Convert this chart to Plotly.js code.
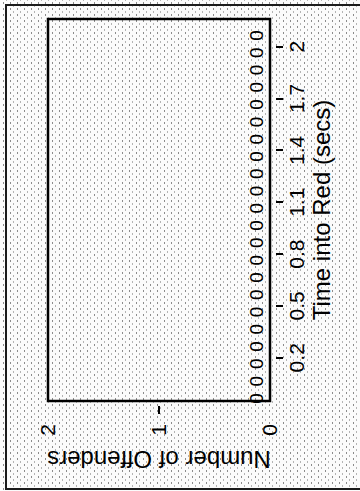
<!DOCTYPE html>
<html>
<head>
<meta charset="utf-8">
<script src="https://cdn.plot.ly/plotly-3.0.1.min.js"></script>
<style>
  html, body { margin: 0; padding: 0; width: 360px; height: 491px; overflow: hidden; background: #fbfbfb; }
  #stage {
    position: absolute; left: 0; top: 0; width: 360px; height: 491px; overflow: hidden;
    background-color: #fbfbfb;
    background-image:
      radial-gradient(circle, #8c8c8c 0.75px, rgba(0,0,0,0) 1px),
      radial-gradient(circle, #b4b4b4 0.7px, rgba(0,0,0,0) 0.95px);
    background-size: 7px 6px, 7px 6px;
    background-position: 0 0, 3px 3px;
  }
  #frame {
    position: absolute; left: 5px; top: 4px; width: 400px; height: 486px;
    box-sizing: border-box; border: 2px solid #1a1a1a;
  }
  #chart {
    position: absolute; left: 0; top: 0; width: 491px; height: 360px;
    transform-origin: 0 0;
    transform: translateY(491px) rotate(-90deg);
  }
</style>
</head>
<body>
<div id="stage">
  <div id="frame"></div>
  <div id="chart"></div>
</div>
<script>
// ---- data ----
const timeIntoRed = [0.0, 0.1, 0.2, 0.3, 0.4, 0.5, 0.6, 0.7, 0.8, 0.9, 1.0,
                     1.1, 1.2, 1.3, 1.4, 1.5, 1.6, 1.7, 1.8, 1.9, 2.0, 2.1];
const offenders   = [0, 0, 0, 0, 0, 0, 0, 0, 0, 0, 0,
                     0, 0, 0, 0, 0, 0, 0, 0, 0, 0, 0];
const timeTickVals  = [0.2, 0.5, 0.8, 1.1, 1.4, 1.7, 2];
const timeTickText  = ['0.2', '0.5', '0.8', '1.1', '1.4', '1.7', '2'];
const countTickVals = [0, 1, 2];
const countTickText = ['0', '1', '2'];
const xTitle = 'Time into Red (secs)';
const yTitle = 'Number of Offenders';

// ---- layout geometry (unrotated chart: 491 x 360) ----
const W = 491, H = 360;
const M = { l: 85, r: 19, t: 48, b: 85 };
const gapPx = 5;
const xDom0 = gapPx / (W - M.l - M.r);
const yDom0 = gapPx / (H - M.t - M.b);
const FONT = 'Liberation Sans, Arial, Helvetica, sans-serif';

const trace = {
  type: 'bar',
  x: timeIntoRed,
  y: offenders,
  text: offenders.map(String),
  textposition: 'outside',
  textangle: 0,
  textfont: { family: FONT, size: 19, color: '#000' },
  width: 0.07,
  offset: -0.07,
  marker: { color: 'rgba(0,0,0,0)', line: { width: 0 } },
  cliponaxis: false,
  hoverinfo: 'skip'
};

const layout = {
  width: W, height: H,
  margin: M,
  paper_bgcolor: 'rgba(0,0,0,0)',
  plot_bgcolor: 'rgba(0,0,0,0)',
  showlegend: false,
  font: { family: FONT, color: '#000' },
  xaxis: {
    domain: [xDom0, 1],
    range: [-0.05, 2.16],
    anchor: 'free', position: 0,
    tickmode: 'array', tickvals: timeTickVals, ticktext: timeTickText,
    ticks: 'outside', ticklen: 7, tickwidth: 2, tickcolor: '#000',
    tickfont: { size: 21, color: '#000' },
    ticklabelstandoff: -4,
    showline: false, showgrid: false, zeroline: false,
    automargin: false,
    title: { text: xTitle, font: { size: 24, color: '#000' }, standoff: 0 }
  },
  yaxis: {
    domain: [yDom0, 1],
    range: [0, 2],
    anchor: 'free', position: 0,
    tickmode: 'array', tickvals: countTickVals, ticktext: countTickText,
    ticks: '',
    minor: { tickmode: 'array', tickvals: [1], ticks: 'outside', ticklen: 8, tickwidth: 2, tickcolor: '#000', showgrid: false },
    tickfont: { size: 21, color: '#000' },
    ticklabelstandoff: 18,
    showline: false, showgrid: false, zeroline: false,
    automargin: false,
    title: { text: yTitle, font: { size: 24, color: '#000' }, standoff: 6 }
  },
  shapes: [{
    type: 'rect', xref: 'paper', yref: 'paper',
    x0: xDom0, x1: 1, y0: yDom0, y1: 1,
    line: { color: '#000', width: 2.5 }, layer: 'above'
  }]
};

Plotly.newPlot('chart', [trace], layout, { staticPlot: true, displayModeBar: false });
</script>
</body>
</html>
